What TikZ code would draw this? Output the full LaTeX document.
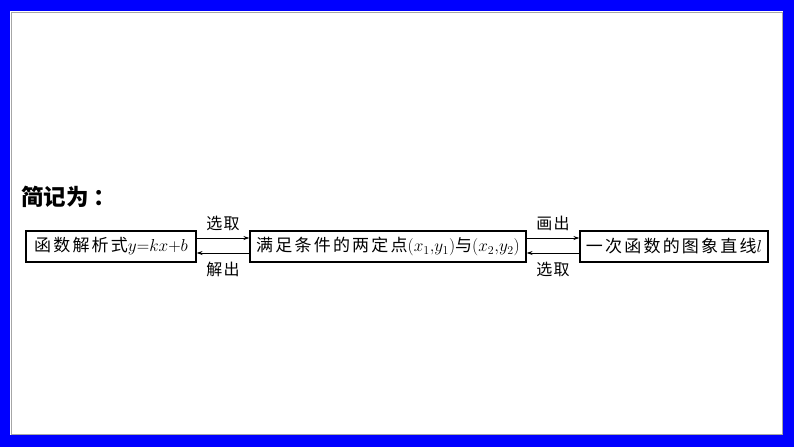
\documentclass[tikz,border=0pt]{standalone}
\usepackage{fontspec}
\usetikzlibrary{arrows.meta}
\newfontfamily\cjk{Noto Sans CJK SC}
\newfontfamily\cjkls[LetterSpace=13]{Noto Sans CJK SC}
\newfontfamily\cjklab[LetterSpace=8]{Noto Sans CJK SC}
\definecolor{frameblue}{HTML}{0000FF}
\tikzset{
  box/.style={draw, line width=1.1pt, minimum height=31pt, inner sep=0pt, font=\fontsize{17}{19}\selectfont\cjkls},
  arr/.style={line width=0.8pt, -{Stealth[length=6pt,width=4pt]}},
  lab/.style={font=\fontsize{16}{18}\selectfont\cjklab, inner sep=0pt}
}
\begin{document}
\begin{tikzpicture}[x=1pt,y=-1pt]
\useasboundingbox (0,0) rectangle (794,447);
\fill[frameblue] (0,0) rectangle (794,447);
\fill[white] (10,11) rectangle (783,435);
\draw[gray!70, line width=0.6pt] (11,12) rectangle (782,434);
\node[anchor=west, inner sep=0pt, font=\fontsize{22.5}{24}\selectfont\cjk\bfseries] (title) at (21,197) {简记为\hspace{5pt}：};
\node[box, minimum width=170pt] (b1) at (111,246.5) {函数解析式$y{=}kx{+}b$};
\node[box, minimum width=276pt] (b2) at (388,246.5) {满足条件的两定点$(x_1{,}y_1)$与$(x_2{,}y_2)$};
\node[box, minimum width=188pt] (b3) at (674,246.5) {一次函数的图象直线$l$};
\draw[arr] ([yshift=8.5pt]b1.east) -- ([yshift=8.5pt]b2.west) node[lab, midway, above=7pt] (l1) {选取};
\draw[arr] ([yshift=-6.5pt]b2.west) -- ([yshift=-6.5pt]b1.east) node[lab, midway, below=9pt] (l2) {解出};
\draw[arr] ([yshift=8.5pt]b2.east) -- ([yshift=8.5pt]b3.west) node[lab, midway, above=7pt] (l3) {画出};
\draw[arr] ([yshift=-6.5pt]b3.west) -- ([yshift=-6.5pt]b2.east) node[lab, midway, below=9pt] (l4) {选取};
\end{tikzpicture}
\end{document}
